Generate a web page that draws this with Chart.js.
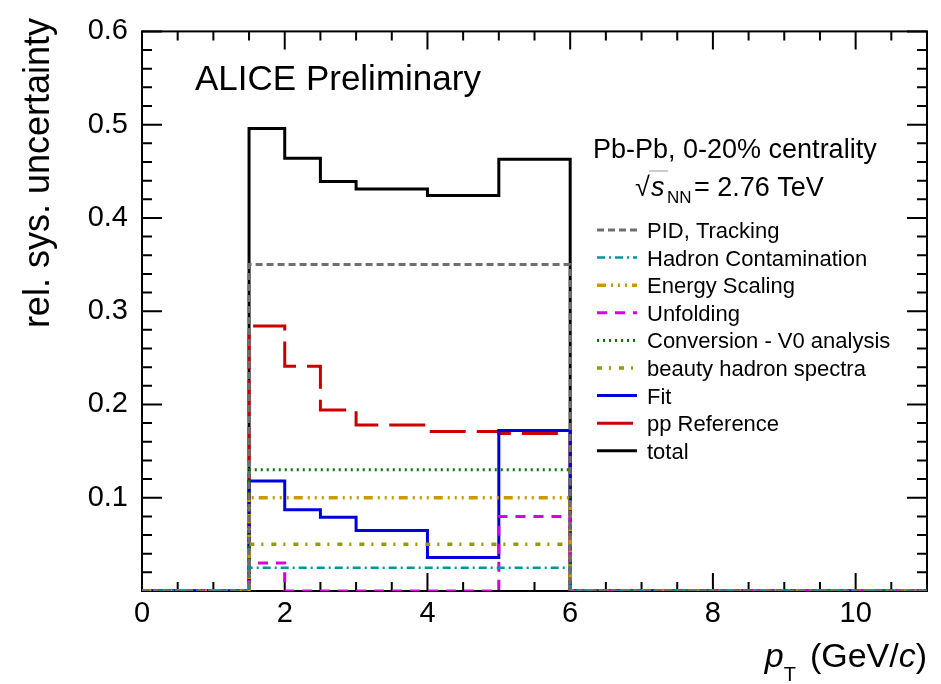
<!DOCTYPE html>
<html>
<head>
<meta charset="utf-8">
<script src="https://cdn.jsdelivr.net/npm/chart.js@4/dist/chart.umd.min.js"></script>
<style>
  body { margin: 0; background: #fff; }
  canvas { display: block; }
</style>
</head>
<body>
<canvas id="uncChart" width="941" height="684"></canvas>
<script>
// pT bin edges (GeV/c) and relative systematic uncertainty per bin
const binEdges = [1.5, 2, 2.5, 3, 4, 5, 6]
const pidTracking = [0.35, 0.35, 0.35, 0.35, 0.35, 0.35]
const hadronContamination = [0.025, 0.025, 0.025, 0.025, 0.025, 0.025]
const energyScaling = [0.10, 0.10, 0.10, 0.10, 0.10, 0.10]
const unfolding = [0.03, 0, 0, 0, 0, 0.08]
const conversionV0 = [0.13, 0.13, 0.13, 0.13, 0.13, 0.13]
const beautySpectra = [0.05, 0.05, 0.05, 0.05, 0.05, 0.05]
const fitUnc = [0.118, 0.087, 0.079, 0.065, 0.036, 0.172]
const ppReference = [0.284, 0.241, 0.194, 0.178, 0.171, 0.169]
const totalUnc = [0.496, 0.464, 0.439, 0.431, 0.424, 0.463]

const seriesLabels = ['PID, Tracking', 'Hadron Contamination', 'Energy Scaling', 'Unfolding',
    'Conversion - V0 analysis', 'beauty hadron spectra', 'Fit', 'pp Reference', 'total']

const xMin = 0
const xMax = 11
const yMax = 0.6
const xTicks = [0, 2, 4, 6, 8, 10]
const yTicks = [0.1, 0.2, 0.3, 0.4, 0.5, 0.6]

const FONT = '"Liberation Sans", Arial, Helvetica, sans-serif'

// histogram as a step line: zero outside the filled bins
function histPoints(vals) {
    const pts = [{ x: xMin, y: 0 }]
    vals.forEach((v, i) => pts.push({ x: binEdges[i], y: v }))
    pts.push({ x: binEdges[binEdges.length - 1], y: 0 })
    pts.push({ x: xMax, y: 0 })
    return pts
}

const styles = [
    { color: '#6e6e6e', width: 3, dash: [7, 4] },
    { color: '#009999', width: 2.5, dash: [8, 4, 2, 4] },
    { color: '#cc9900', width: 3.5, dash: [9, 5, 2, 5, 2, 5, 2, 5] },
    { color: '#dd00dd', width: 3, dash: [10, 8] },
    { color: '#007f00', width: 3, dash: [2, 4] },
    { color: '#999900', width: 3.5, dash: [5, 7, 2, 8] },
    { color: '#0000dd', width: 3, dash: [] },
    { color: '#cc0000', width: 3, dash: [36, 11] },
    { color: '#000000', width: 3, dash: [] }
]

const seriesValues = [pidTracking, hadronContamination, energyScaling, unfolding,
    conversionV0, beautySpectra, fitUnc, ppReference, totalUnc]

const datasets = seriesValues.map((vals, i) => ({
    label: seriesLabels[i],
    data: histPoints(vals),
    borderColor: styles[i].color,
    borderWidth: styles[i].width,
    borderDash: styles[i].dash,
    borderCapStyle: 'butt',
    borderJoinStyle: 'miter',
    stepped: true,
    fill: false,
    pointRadius: 0,
    tension: 0
}))

// frame with inward ticks on all four sides
const frameTicks = {
    id: 'frameTicks',
    beforeDatasetsDraw(chart) {
        const { ctx, chartArea: a, scales: { x, y } } = chart
        ctx.save()
        ctx.strokeStyle = '#000'
        ctx.lineWidth = 2
        ctx.beginPath()
        for (let i = 0; i <= xMax * 2; i++) {
            const px = x.getPixelForValue(i * 0.5)
            const len = i % 4 === 0 ? 18 : 9
            ctx.moveTo(px, a.bottom); ctx.lineTo(px, a.bottom - len)
            ctx.moveTo(px, a.top); ctx.lineTo(px, a.top + len)
        }
        for (let i = 0; i <= 30; i++) {
            const py = y.getPixelForValue(i * 0.02)
            const len = i % 5 === 0 ? 20 : 10
            ctx.moveTo(a.left, py); ctx.lineTo(a.left + len, py)
            ctx.moveTo(a.right, py); ctx.lineTo(a.right - len, py)
        }
        ctx.stroke()
        ctx.strokeRect(a.left, a.top, a.right - a.left, a.bottom - a.top)
        ctx.restore()
    }
}

// titles, labels and the legend box
const annotations = {
    id: 'annotations',
    afterDraw(chart) {
        const ctx = chart.ctx
        ctx.save()
        ctx.fillStyle = '#000'
        ctx.textBaseline = 'alphabetic'

        ctx.font = '35px ' + FONT
        ctx.textAlign = 'left'
        ctx.fillText('ALICE Preliminary', 195, 90)

        ctx.font = '27px ' + FONT
        ctx.fillText('Pb-Pb, 0-20% centrality', 593, 158)

        // sqrt(s_NN) = 2.76 TeV
        ctx.font = '27px ' + FONT
        ctx.fillText('\u221A', 635, 196)
        ctx.lineWidth = 1
        ctx.strokeStyle = '#999'
        ctx.beginPath()
        ctx.moveTo(649, 171); ctx.lineTo(668, 171)
        ctx.stroke()
        ctx.font = 'italic 27px ' + FONT
        ctx.fillText('s', 651, 196)
        ctx.font = '17px ' + FONT
        ctx.fillText('NN', 667, 203)
        ctx.font = '27px ' + FONT
        ctx.fillText('= 2.76 TeV', 694, 196)

        // y axis title
        ctx.save()
        ctx.translate(49, 18)
        ctx.rotate(-Math.PI / 2)
        ctx.font = '36px ' + FONT
        ctx.textAlign = 'right'
        ctx.fillText('rel. sys. uncertainty', 0, 0)
        ctx.restore()

        // x axis title, right aligned to the frame
        const parts = [
            { t: 'p', f: 'italic 34px ' + FONT, dy: 0 },
            { t: 'T', f: '20px ' + FONT, dy: 14, after: 14 },
            { t: '(GeV/', f: '34px ' + FONT, dy: 0 },
            { t: 'c', f: 'italic 34px ' + FONT, dy: 0 },
            { t: ')', f: '34px ' + FONT, dy: 0 }
        ]
        let w = 0
        parts.forEach(p => { ctx.font = p.f; p.w = ctx.measureText(p.t).width + (p.after || 0); w += p.w })
        let px = chart.chartArea.right - w
        parts.forEach(p => {
            ctx.font = p.f
            ctx.fillText(p.t, px, 667 + p.dy)
            px += p.w
        })

        // legend
        ctx.font = '22px ' + FONT
        chart.data.datasets.forEach((ds, i) => {
            const ry = 230 + i * 27.6
            ctx.save()
            ctx.strokeStyle = ds.borderColor
            ctx.lineWidth = ds.borderWidth
            ctx.setLineDash(ds.borderDash)
            ctx.beginPath()
            ctx.moveTo(597, ry); ctx.lineTo(637, ry)
            ctx.stroke()
            ctx.restore()
            ctx.fillText(ds.label, 647, ry + 8)
        })
        ctx.restore()
    }
}

const config = {
    type: 'line',
    data: { datasets: datasets },
    options: {
        responsive: false,
        animation: false,
        devicePixelRatio: 1,
        layout: { padding: { top: 22, right: 14, left: 0, bottom: 0 } },
        plugins: {
            legend: { display: false },
            tooltip: { enabled: false }
        },
        scales: {
            x: {
                type: 'linear',
                min: xMin,
                max: xMax,
                grid: { display: false, drawTicks: false },
                border: { display: false },
                afterBuildTicks: (scale) => { scale.ticks = xTicks.map(v => ({ value: v })) },
                afterFit: (scale) => { scale.height = 93 },
                ticks: {
                    autoSkip: false,
                    maxRotation: 0,
                    padding: 6,
                    color: '#000',
                    font: { family: FONT, size: 29 }
                }
            },
            y: {
                min: 0,
                max: yMax,
                grid: { display: false, drawTicks: false },
                border: { display: false },
                afterBuildTicks: (scale) => { scale.ticks = yTicks.map(v => ({ value: v })) },
                afterFit: (scale) => { scale.width = 142 },
                ticks: {
                    padding: 14,
                    color: '#000',
                    font: { family: FONT, size: 29 },
                    callback: (v) => Number(v).toFixed(1)
                }
            }
        }
    },
    plugins: [frameTicks, annotations]
}

const uncChart = new Chart(document.getElementById('uncChart'), config)
</script>
</body>
</html>
